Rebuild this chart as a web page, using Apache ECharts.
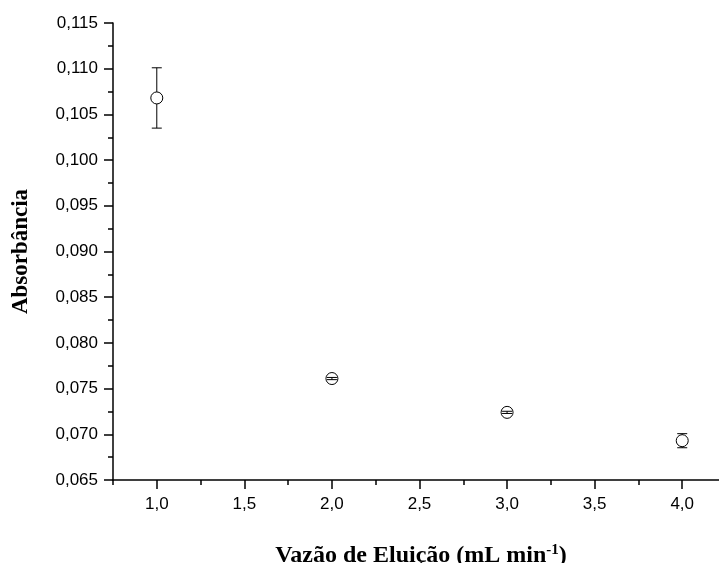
<!DOCTYPE html>
<html>
<head>
<meta charset="utf-8">
<script src="https://cdn.jsdelivr.net/npm/echarts@6/dist/echarts.min.js"></script>
<style>
	html, body { margin: 0; padding: 0; background: #fff; }
	#chart { width: 719px; height: 563px; }
</style>
</head>
<body>
<div id="chart"></div>
<script>
// dados
var vazao = [1.0, 2.0, 3.0, 4.0];
var absorbancia = [0.1068, 0.0761, 0.0724, 0.0693];
var desvio = [0.0033, 0.00012, 0.00012, 0.00077];

var xMajor = [1.0, 1.5, 2.0, 2.5, 3.0, 3.5, 4.0];
var xMinor = [0.75, 1.25, 1.75, 2.25, 2.75, 3.25, 3.75];
var yMajor = [0.065, 0.070, 0.075, 0.080, 0.085, 0.090, 0.095, 0.100, 0.105, 0.110, 0.115];
var yMinor = [0.0675, 0.0725, 0.0775, 0.0825, 0.0875, 0.0925, 0.0975, 0.1025, 0.1075, 0.1125];

var pontos = [];
var barras = [];
for (var i = 0; i < vazao.length; i++) {
	pontos.push([vazao[i], absorbancia[i]]);
	barras.push([vazao[i], absorbancia[i] - desvio[i], absorbancia[i] + desvio[i], absorbancia[i]]);
}

var labelFont = {
	fontFamily: 'Liberation Sans',
	fontSize: 17,
	color: '#000'
};

var chart = echarts.init(document.getElementById('chart'));
var option = {
	animation: false,
	grid: {
		left: 113,
		right: 0,
		top: 23,
		bottom: 83,
		containLabel: false,
		outerBoundsMode: 'none'
	},
	xAxis: [{
		type: 'value',
		min: 0.75,
		max: 4.21,
		position: 'bottom',
		splitLine: { show: false },
		axisLine: { show: true, onZero: false, lineStyle: { color: '#000', width: 1.5 } },
		axisTick: { show: true, length: 9, customValues: xMajor, lineStyle: { color: '#000', width: 1.5 } },
		axisLabel: Object.assign({
			customValues: xMajor,
			margin: 16,
			formatter: function(v) { return v.toFixed(1).replace('.', ','); }
		}, labelFont),
		name: '{b|Vazão de Eluição (mL min}{s|-1}{b|)}',
		nameLocation: 'middle',
		nameGap: 63,
		nameTextStyle: {
			verticalAlign: 'top',
			padding: [0, 0, 0, 10],
			rich: {
				b: { fontFamily: 'Liberation Serif', fontWeight: 'bold', fontSize: 24, lineHeight: 26, color: '#000' },
				s: { fontFamily: 'Liberation Serif', fontWeight: 'bold', fontSize: 15, lineHeight: 26, color: '#000', verticalAlign: 'top', padding: [0, 0, 12, 0] }
			}
		}
	}, {
		type: 'value',
		min: 0.75,
		max: 4.21,
		position: 'bottom',
		splitLine: { show: false },
		axisLine: { show: false },
		axisTick: { show: true, length: 5, customValues: xMinor, lineStyle: { color: '#000', width: 1.5 } },
		axisLabel: { show: false }
	}],
	yAxis: [{
		type: 'value',
		min: 0.065,
		max: 0.115,
		position: 'left',
		splitLine: { show: false },
		axisLine: { show: true, onZero: false, lineStyle: { color: '#000', width: 1.5 } },
		axisTick: { show: true, length: 9, customValues: yMajor, lineStyle: { color: '#000', width: 1.5 } },
		axisLabel: Object.assign({
			customValues: yMajor,
			margin: 15,
			formatter: function(v) { return v.toFixed(3).replace('.', ','); }
		}, labelFont),
		name: 'Absorbância',
		nameLocation: 'middle',
		nameGap: 80,
		nameTextStyle: {
			fontFamily: 'Liberation Serif',
			fontWeight: 'bold',
			fontSize: 23,
			color: '#000'
		}
	}, {
		type: 'value',
		min: 0.065,
		max: 0.115,
		position: 'left',
		splitLine: { show: false },
		axisLine: { show: false },
		axisTick: { show: true, length: 5, customValues: yMinor, lineStyle: { color: '#000', width: 1.5 } },
		axisLabel: { show: false }
	}],
	series: [{
		type: 'scatter',
		data: pontos,
		symbol: 'circle',
		symbolSize: 12,
		itemStyle: {
			color: '#fff',
			borderColor: '#000',
			borderWidth: 1,
			opacity: 1
		},
		z: 2
	}, {
		// barras de erro
		type: 'custom',
		data: barras,
		z: 3,
		renderItem: function(params, api) {
			var x = api.value(0);
			var baixo = api.coord([x, api.value(1)]);
			var alto = api.coord([x, api.value(2)]);
			var centro = api.coord([x, api.value(3)]);
			var r = 6;
			var c = 5;
			var filhos = [];
			var st = { stroke: '#000', lineWidth: 1 };
			if (baixo[1] - centro[1] > r) {
				filhos.push({ type: 'line', shape: { x1: centro[0], y1: centro[1] + r, x2: centro[0], y2: baixo[1] }, style: st });
				filhos.push({ type: 'line', shape: { x1: centro[0], y1: alto[1], x2: centro[0], y2: centro[1] - r }, style: st });
			} else {
				filhos.push({ type: 'line', shape: { x1: centro[0], y1: alto[1], x2: centro[0], y2: baixo[1] }, style: st });
			}
			filhos.push({ type: 'line', shape: { x1: alto[0] - c, y1: alto[1], x2: alto[0] + c, y2: alto[1] }, style: st });
			filhos.push({ type: 'line', shape: { x1: baixo[0] - c, y1: baixo[1], x2: baixo[0] + c, y2: baixo[1] }, style: st });
			return { type: 'group', children: filhos };
		}
	}]
};
chart.setOption(option);
</script>
</body>
</html>
